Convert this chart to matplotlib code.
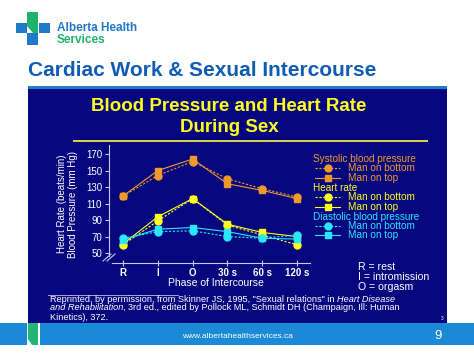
import matplotlib
matplotlib.use("Agg")
import matplotlib.pyplot as plt
from matplotlib.lines import Line2D
from matplotlib.patches import Rectangle, Polygon

plt.rcParams['font.family'] = ['Liberation Sans', 'DejaVu Sans']

# data
phases = ['R', 'I', 'O', '30 s', '60 s', '120 s']
yticks = [50, 70, 90, 110, 130, 150, 170]
sys_bottom = [119, 144, 161, 140, 128, 118]
sys_top = [119, 150, 164, 134, 126, 116]
hr_bottom = [60, 89, 116, 84, 72, 60]
hr_top = [61, 94, 116, 85, 75, 70]
dia_bottom = [68, 76, 77, 70, 68, 72]
dia_top = [66, 79, 81, 76, 68, 67]

W, H = 474, 355
NAVY = '#06067f'
ORANGE = '#f0982a'
YELLOW = '#ffff1e'
CYAN = '#2ae6ff'
AXC = '#c8c8f0'

fig = plt.figure(figsize=(W / 100, H / 100), dpi=100)
fig.patch.set_facecolor('white')

def fx(x):
    return x / W

def fy(y):
    return 1 - y / H

def rect(x0, y0, x1, y1, color):
    fig.add_artist(Rectangle((fx(x0), fy(y1)), fx(x1) - fx(x0), fy(y0) - fy(y1),
                             transform=fig.transFigure, color=color, lw=0, zorder=-5))

def txt(x, y, s, **kw):
    return fig.text(fx(x), fy(y), s, **kw)

# logo
rect(16, 23, 27, 33, '#1f78c8')
rect(39, 23, 50, 33, '#1f78c8')
rect(27, 33, 38, 45, '#1f78c8')
fig.add_artist(Polygon([(fx(27), fy(12)), (fx(38), fy(12)), (fx(38), fy(33)),
                        (fx(33), fy(33)), (fx(27), fy(26))],
                       transform=fig.transFigure, color='#20b26b', lw=0, zorder=-5))
txt(57, 28, 'Alberta Health', fontsize=8.5, weight='bold', color='#1f78c8', va='center')
txt(57, 40, 'Services', fontsize=8.5, weight='bold', color='#20b26b', va='center')

# title
txt(28, 71, 'Cardiac Work & Sexual Intercourse', fontsize=15, weight='bold',
    color='#0f5cb4', va='center')
rect(28, 86, 447, 88.5, '#1f7fc8')

# navy panel
rect(28, 88.5, 447, 323, NAVY)
txt(229, 106, 'Blood Pressure and Heart Rate', fontsize=13.5, weight='bold',
    color=YELLOW, ha='center', va='center')
txt(229, 127, 'During Sex', fontsize=13.5, weight='bold', color=YELLOW,
    ha='center', va='center')
rect(73, 140, 428, 142, '#d8d04a')

# footer
rect(0, 323, 474, 345, '#1a8ad6')
rect(27, 323, 40, 345, 'white')
fig.add_artist(Polygon([(fx(28), fy(323)), (fx(38), fy(323)), (fx(38), fy(345)),
                        (fx(32), fy(345)), (fx(28), fy(339))],
                       transform=fig.transFigure, color='#22b573', lw=0, zorder=-4))
txt(237, 336, 'www.albertahealthservices.ca', fontsize=6, color='white',
    ha='center', va='center')
txt(438, 336, '9', fontsize=9.5, color='white', ha='center', va='center')

# chart
ax = fig.add_axes([fx(109), fy(263), fx(310) - fx(109), fy(145) - fy(263)])
ax.set_zorder(5)
ax.set_facecolor('none')
x = list(range(len(phases)))
ax.plot(x, sys_bottom, ls=(0, (2, 1.5)), marker='o', color=ORANGE, lw=0.8, ms=5)
ax.plot(x, sys_top, ls='-', marker='s', color=ORANGE, lw=0.8, ms=5)
ax.plot(x, hr_bottom, ls=(0, (2, 1.5)), marker='o', color=YELLOW, lw=0.8, ms=5)
ax.plot(x, hr_top, ls='-', marker='s', color=YELLOW, lw=0.8, ms=5)
ax.plot(x, dia_bottom, ls=(0, (2, 1.5)), marker='o', color=CYAN, lw=0.8, ms=5)
ax.plot(x, dia_top, ls='-', marker='s', color=CYAN, lw=0.8, ms=5)

ax.set_xlim(-0.40, 5.37)
ax.set_ylim(38, 181)
ax.set_xticks(x)
ax.set_xticklabels(phases, fontsize=7, weight='bold', color='white')
ax.set_yticks(yticks)
ax.set_yticklabels([str(v) for v in yticks], fontsize=7, color='white')
for s in ['top', 'right']:
    ax.spines[s].set_visible(False)
ax.spines['left'].set_color(AXC)
ax.spines['bottom'].set_color(AXC)
ax.spines['left'].set_bounds(46, 181)
ax.spines['bottom'].set_bounds(-0.31, 5.37)
ax.tick_params(axis='y', colors=AXC, length=3, width=0.8, pad=2)
ax.tick_params(axis='x', colors=AXC, length=5, width=0.8, direction='inout', pad=1)
for lab in ax.get_xticklabels() + ax.get_yticklabels():
    lab.set_color('white')
ax.set_xlabel('Phase of Intercourse', fontsize=7.5, color='white')
ax.xaxis.set_label_coords((216 - 109) / (310 - 109), -(283 - 263) / (263 - 145), transform=ax.transAxes)
ax.xaxis.label.set_va('center')
ax.set_ylabel('Heart Rate (beats/min)\nBlood Pressure (mm Hg)', fontsize=7,
              color='white', labelpad=6, linespacing=1.05)

# axis break marks
for dx in (0, 4):
    fig.add_artist(Line2D([fx(103 + dx), fx(111 + dx)], [fy(261), fy(254)],
                          transform=fig.transFigure, color=AXC, lw=0.8))

# legend
lx0, lx1, tx = 315, 340, 348
entries = [
    (159, 'Systolic blood pressure', ORANGE, None, None),
    (168, 'Man on bottom', ORANGE, 'o', (0, (2, 1.5))),
    (178, 'Man on top', ORANGE, 's', '-'),
    (188, 'Heart rate', YELLOW, None, None),
    (197, 'Man on bottom', YELLOW, 'o', (0, (2, 1.5))),
    (207, 'Man on top', YELLOW, 's', '-'),
    (217, 'Diastolic blood pressure', CYAN, None, None),
    (226, 'Man on bottom', CYAN, 'o', (0, (2, 1.5))),
    (235, 'Man on top', CYAN, 's', '-'),
]
for yy, label, c, m, ls in entries:
    if m is None:
        txt(313, yy, label, fontsize=7.2, color=c, va='center')
    else:
        fig.add_artist(Line2D([fx(lx0), fx(lx1)], [fy(yy), fy(yy)],
                              transform=fig.transFigure, color=c, lw=0.8, ls=ls))
        fig.add_artist(Line2D([fx((lx0 + lx1) / 2)], [fy(yy)], marker=m,
                              transform=fig.transFigure, color=c, ms=5))
        txt(tx, yy, label, fontsize=7.2, color=c, va='center')

txt(358, 267, 'R = rest', fontsize=7.6, color='white', va='center')
txt(358, 277, 'I = intromission', fontsize=7.6, color='white', va='center')
txt(358, 287, 'O = orgasm', fontsize=7.6, color='white', va='center')

# citation, pieces placed one after another so the italic parts fit in
renderer = fig.canvas.get_renderer()

def line_pieces(x0, y, pieces):
    xx = x0
    for s, style in pieces:
        t = txt(xx, y, s, fontsize=6.6, color='white', va='center', style=style)
        bb = t.get_window_extent(renderer)
        xx += bb.width

fig.add_artist(Line2D([fx(48), fx(178)], [fy(295), fy(295)],
                      transform=fig.transFigure, color='#c0c0e0', lw=0.6))
line_pieces(50, 299, [('Reprinted, by permission, from Skinner JS, 1995, "Sexual relations" in ', 'normal'),
                      ('Heart Disease', 'italic')])
line_pieces(50, 308, [('and Rehabilitation', 'italic'),
                      (', 3rd ed., edited by Pollock ML, Schmidt DH (Champaign, Ill: Human', 'normal')])
line_pieces(50, 317, [('Kinetics), 372.', 'normal')])
txt(441, 318, '3', fontsize=3.5, color='white', va='center')

fig.savefig('out.png', dpi=100, facecolor='white')
